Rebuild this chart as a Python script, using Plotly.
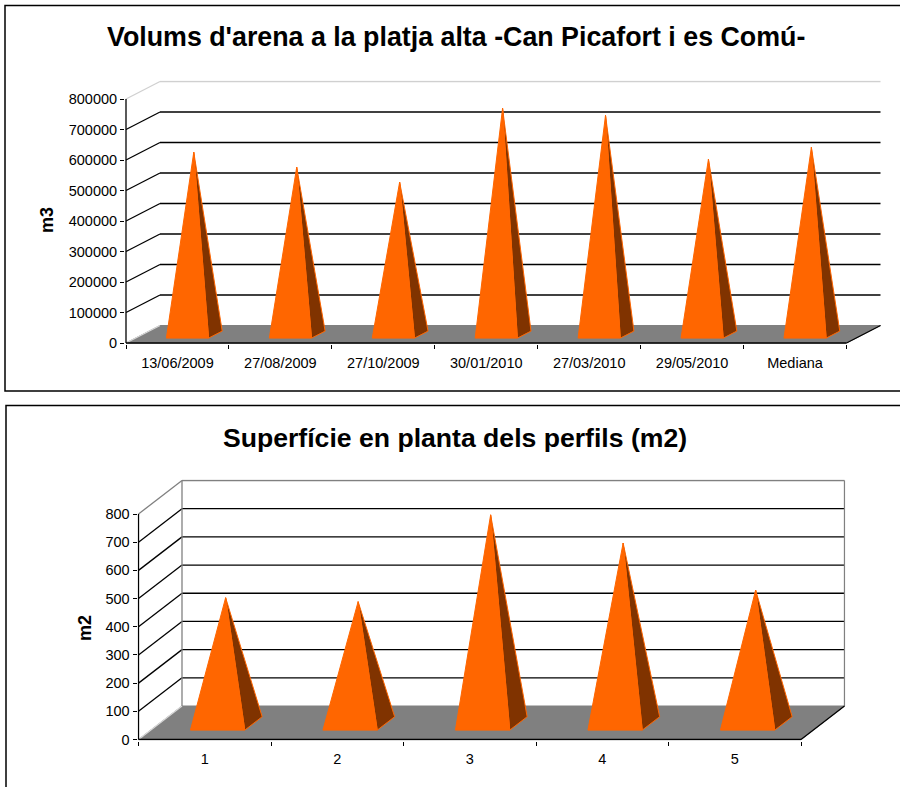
import plotly.graph_objects as go

# volums platja alta
dates = ["13/06/2009", "27/08/2009", "27/10/2009", "30/01/2010", "27/03/2010", "29/05/2010", "Mediana"]
volums = [598000, 549000, 500000, 742000, 719000, 575000, 614000]
volum_ticks = [0, 100000, 200000, 300000, 400000, 500000, 600000, 700000, 800000]

# superficie perfils
perfils = ["1", "2", "3", "4", "5"]
superficie = [446, 432, 740, 640, 473]
superficie_ticks = [0, 100, 200, 300, 400, 500, 600, 700, 800]

ORANGE = "#FF6600"
DARK = "#803300"
FLOOR = "#808080"
W, H = 900, 787
PAD = 1  # px kept round the plot so edge lines are not clipped


def line(fig, xs, ys, color, ax, width=1.3):
    fig.add_trace(go.Scatter(x=xs, y=ys, mode="lines", line=dict(color=color, width=width),
                             xaxis="x" + ax, yaxis="y" + ax, hoverinfo="skip", showlegend=False))


def poly(fig, xs, ys, color, ax):
    fig.add_trace(go.Scatter(x=xs, y=ys, mode="lines", fill="toself", fillcolor=color,
                             line=dict(color=ORANGE, width=1),
                             xaxis="x" + ax, yaxis="y" + ax, hoverinfo="skip", showlegend=False))


def chart(fig, ax, cats, values, ticks, box, dx, dy, y_max, edge_color, side_walls):
    n = len(cats)
    # box is x0, x1, y0, y1 of the front plane in pixels, dx/dy the depth in pixels
    x_unit = (box[1] - box[0]) / n
    y_unit = (box[2] - box[3]) / y_max
    depth_x = dx / x_unit
    depth_y = dy / y_unit
    xmax = n + depth_x
    ymax = y_max + depth_y
    pad_x = PAD / x_unit
    pad_y = PAD / y_unit

    # floor
    fig.add_trace(go.Scatter(x=[0, n, xmax, depth_x, 0], y=[0, 0, depth_y, depth_y, 0], mode="lines",
                             fill="toself", fillcolor=FLOOR, line=dict(color=FLOOR, width=1),
                             xaxis="x" + ax, yaxis="y" + ax, hoverinfo="skip", showlegend=False))

    # grid
    for t in ticks:
        c = "black"
        if t == ticks[0]:
            c = "#d8d8d8"
        if t == ticks[-1]:
            c = edge_color
        if t != ticks[0]:
            line(fig, [depth_x, xmax], [t + depth_y, t + depth_y], c, ax)
        line(fig, [0, depth_x], [t, t + depth_y], c, ax)
    if side_walls:
        line(fig, [depth_x, depth_x], [depth_y, y_max + depth_y], edge_color, ax)
        line(fig, [xmax, xmax], [depth_y, y_max + depth_y], edge_color, ax)

    # axes
    line(fig, [0, 0], [0, y_max], "black", ax)
    line(fig, [0, n], [0, 0], "black", ax)
    line(fig, [n, xmax], [0, depth_y], "black", ax)

    # pyramids
    for i, v in enumerate(values):
        left, right = i + 0.3, i + 0.71
        z0, z1 = 0.28, 0.68
        zm = (z0 + z1) / 2
        apex_x = i + 0.5 + zm * depth_x
        apex_y = v + zm * depth_y
        fl = (left + z0 * depth_x, z0 * depth_y)
        fr = (right + z0 * depth_x, z0 * depth_y)
        br = (right + z1 * depth_x, z1 * depth_y)
        poly(fig, [fr[0], br[0], apex_x, fr[0]], [fr[1], br[1], apex_y, fr[1]], DARK, ax)
        poly(fig, [fl[0], fr[0], apex_x, fl[0]], [fl[1], fr[1], apex_y, fl[1]], ORANGE, ax)

    tick_font = dict(family="Liberation Sans", size=14.5, color="black")
    fig.update_layout({
        "xaxis" + ax: dict(
            domain=[(box[0] - PAD) / W, (box[1] + dx + PAD) / W], range=[-pad_x, xmax + pad_x], automargin=False,
            anchor="y" + ax, showgrid=False, zeroline=False, showline=False,
            tickvals=[i + 0.5 for i in range(n)], ticktext=cats, ticks="", tickfont=tick_font,
            ticklabelstandoff=8,
            minor=dict(tickvals=list(range(n + 1)), ticks="outside", ticklen=4, tickcolor="black", tickwidth=1, showgrid=False),
        ),
        "yaxis" + ax: dict(
            domain=[1 - (box[2] + PAD) / H, 1 - (box[3] - dy - PAD) / H], range=[-pad_y, ymax + pad_y], automargin=False,
            anchor="x" + ax, showgrid=False, zeroline=False, showline=False,
            tickvals=ticks, ticktext=[str(t) for t in ticks], ticks="outside", ticklen=4,
            tickcolor="black", tickfont=tick_font,
        ),
    })


fig = go.Figure()
chart(fig, "", dates, volums, volum_ticks, (126, 846.5, 343, 99), 34, 17.5, 800000, "#d0d0d0", False)
chart(fig, "2", perfils, superficie, superficie_ticks, (138.5, 801, 739.5, 514), 43.5, 33.5, 800, FLOOR, True)


def label(text, x, y, size, angle=0):
    return dict(text="<b>" + text + "</b>", x=x / W, y=1 - y / H, xref="paper", yref="paper", showarrow=False,
                xanchor="center", yanchor="middle", textangle=angle, font=dict(size=size))


fig.update_layout(
    width=W, height=H, margin=dict(l=0, r=0, t=0, b=0), autosize=False,
    paper_bgcolor="white", plot_bgcolor="rgba(0,0,0,0)", showlegend=False,
    font=dict(family="Liberation Sans", color="black"),
    shapes=[
        dict(type="rect", xref="paper", yref="paper", x0=5 / W, x1=1.01, y0=1 - 391 / H, y1=1 - 5.5 / H, line=dict(color="black", width=1.5)),
        dict(type="rect", xref="paper", yref="paper", x0=6 / W, x1=1.01, y0=-0.01, y1=1 - 405.5 / H, line=dict(color="black", width=1.5)),
    ],
    annotations=[
        label("Volums d'arena a la platja alta -Can Picafort i es Comú-", 456, 37, 26.8),
        label("Superfície en planta dels perfils (m2)", 455, 438, 26.6),
        label("m3", 47, 220, 18, -90),
        label("m2", 85, 628, 18, -90),
    ],
)

fig.write_html("out.html", config={"displayModeBar": False},
               post_script="document.body.style.margin='0';document.body.style.overflow='hidden';")
